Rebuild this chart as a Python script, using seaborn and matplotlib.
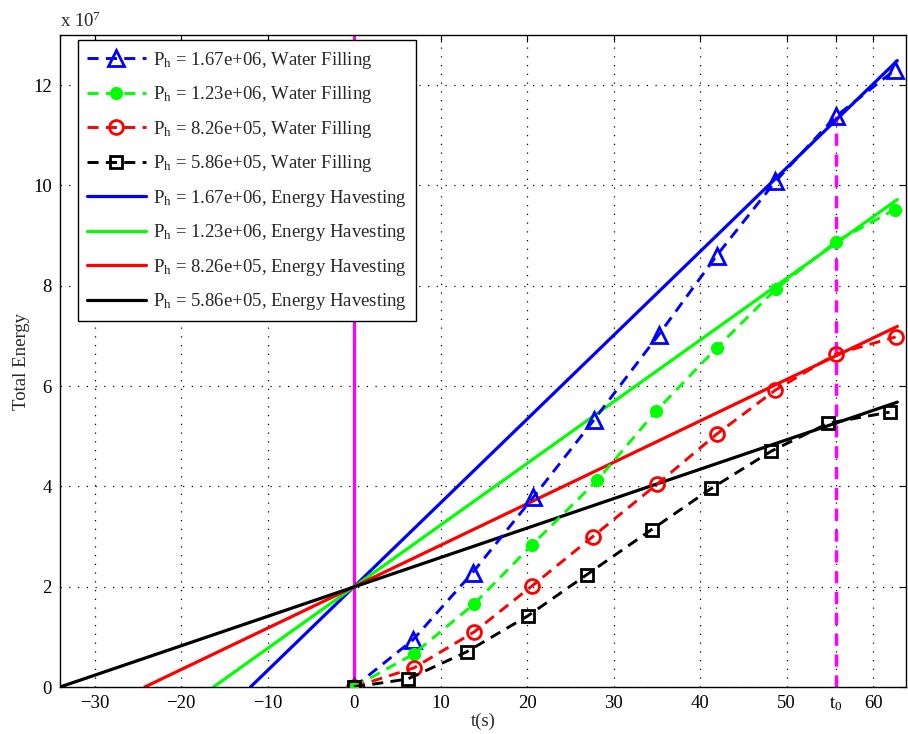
import numpy as np
import pandas as pd
import matplotlib
matplotlib.use("Agg")
import matplotlib.pyplot as plt
import seaborn as sns

# --- data (energy in units of 1e7) ---
power_labels = ['1.67e+06', '1.23e+06', '8.26e+05', '5.86e+05']
colors = ['#0000ff', '#00ff00', '#ff0000', '#000000']
markers = ['^', 'o', 'o', 's']

# water filling: time stamps and energy per power level
wf_t = {
    '1.67e+06': [0, 6.8, 13.7, 20.7, 27.7, 35.2, 41.9, 48.7, 55.7, 62.5],
    '1.23e+06': [0, 6.9, 13.9, 20.6, 28.1, 34.9, 41.9, 48.8, 55.7, 62.5],
    '8.26e+05': [0, 6.9, 13.9, 20.6, 27.6, 35.0, 41.9, 48.7, 55.7, 62.6],
    '5.86e+05': [0, 6.2, 13.0, 20.1, 26.9, 34.4, 41.3, 48.2, 54.8, 61.9],
}
wf_e = {
    '1.67e+06': [0, 0.94, 2.28, 3.78, 5.32, 7.02, 8.60, 10.08, 11.38, 12.30],
    '1.23e+06': [0, 0.66, 1.66, 2.84, 4.12, 5.50, 6.76, 7.94, 8.88, 9.52],
    '8.26e+05': [0, 0.38, 1.10, 2.02, 3.00, 4.04, 5.04, 5.92, 6.64, 6.98],
    '5.86e+05': [0, 0.16, 0.70, 1.42, 2.24, 3.14, 3.96, 4.70, 5.26, 5.48],
}

# energy harvesting: straight lines, start/end points
eh_t = {
    '1.67e+06': [-11.98, 62.8],
    '1.23e+06': [-16.26, 62.8],
    '8.26e+05': [-24.2, 62.8],
    '5.86e+05': [-34.0, 62.8],
}
eh_e = {
    '1.67e+06': [0.0, 12.49],
    '1.23e+06': [0.0, 9.72],
    '8.26e+05': [0.0, 7.19],
    '5.86e+05': [0.0, 5.68],
}

t0 = 55.7
t0_top = 11.38
scale = 1e7

x_ticks = [-30, -20, -10, 0, 10, 20, 30, 40, 50, t0, 60]
x_ticklabels = ['\u221230', '\u221220', '\u221210', '0', '10', '20', '30',
                '40', '50', r't$_0$', '60']
y_ticks = [0, 2, 4, 6, 8, 10, 12]

sns.set_style("white")
plt.rcParams['font.family'] = ['Liberation Serif', 'DejaVu Serif']
plt.rcParams['mathtext.fontset'] = 'custom'
plt.rcParams['mathtext.rm'] = 'Liberation Serif'
plt.rcParams['mathtext.it'] = 'Liberation Serif:italic'
plt.rcParams['xtick.direction'] = 'in'
plt.rcParams['ytick.direction'] = 'in'

fig = plt.figure(figsize=(9.08, 7.34), dpi=100)
ax = fig.add_axes([60 / 908, 1 - 687 / 734, 846 / 908, 652 / 734])

dash = (0, (3.8, 2.5))

for p, c, m in zip(power_labels, colors, markers):
    df = pd.DataFrame({'t': wf_t[p], 'E': np.array(wf_e[p]) * scale})
    face = c if p == '1.23e+06' else 'none'
    msize = {'^': 12, 'o': 10, 's': 8}[m]
    if p == '1.23e+06':
        msize = 7.5
    sns.lineplot(data=df, x='t', y='E', ax=ax, color=c, sort=False,
                 linestyle=dash, lw=2.1, marker=m, markersize=msize,
                 markerfacecolor=face, markeredgecolor=c, markeredgewidth=2.0,
                 label=r'P$_{\rm h}$ = ' + p + ', Water Filling', zorder=3)

for p, c in zip(power_labels, colors):
    df = pd.DataFrame({'t': eh_t[p], 'E': np.array(eh_e[p]) * scale})
    sns.lineplot(data=df, x='t', y='E', ax=ax, color=c, sort=False, lw=2.3,
                 label=r'P$_{\rm h}$ = ' + p + ', Energy Havesting', zorder=2)

ax.plot([0, 0], [0, 13 * scale], color='#ff00ff', lw=2.3, zorder=1)
ax.plot([t0, t0], [0, t0_top * scale], color='#ff00ff', lw=2.5,
        linestyle=(0, (3.5, 2.5)), zorder=1)

ax.set_xlim(-34, 63.8)
ax.set_ylim(0, 13 * scale)
ax.set_xticks(x_ticks)
ax.set_xticklabels(x_ticklabels)
ax.set_yticks(np.array(y_ticks) * scale)
ax.set_yticklabels([str(v) for v in y_ticks])
ax.tick_params(labelsize=13.5, length=5, width=0.8, top=True, right=True,
               colors='black', pad=6)
ax.grid(True, color='black', linestyle=(0, (1, 6)), lw=0.9)
for s in ax.spines.values():
    s.set_color('black')
    s.set_linewidth(1.0)

ax.text(0.0, 1.006, r'x 10$^{7}$', transform=ax.transAxes, fontsize=13.5,
        ha='left', va='bottom')
ax.set_xlabel('t(s)', fontsize=13.5, labelpad=0)
ax.set_ylabel('Total Energy', fontsize=13.5, labelpad=2)

leg = ax.legend(loc='upper left', bbox_to_anchor=(0.0213, 0.992),
                borderaxespad=0, fontsize=13.5, handlelength=3.1,
                handletextpad=0.4, labelspacing=0.72, frameon=True,
                fancybox=False, edgecolor='black', framealpha=1,
                borderpad=0.5)
leg.get_frame().set_linewidth(1.0)

fig.savefig('out.png', dpi=100)
